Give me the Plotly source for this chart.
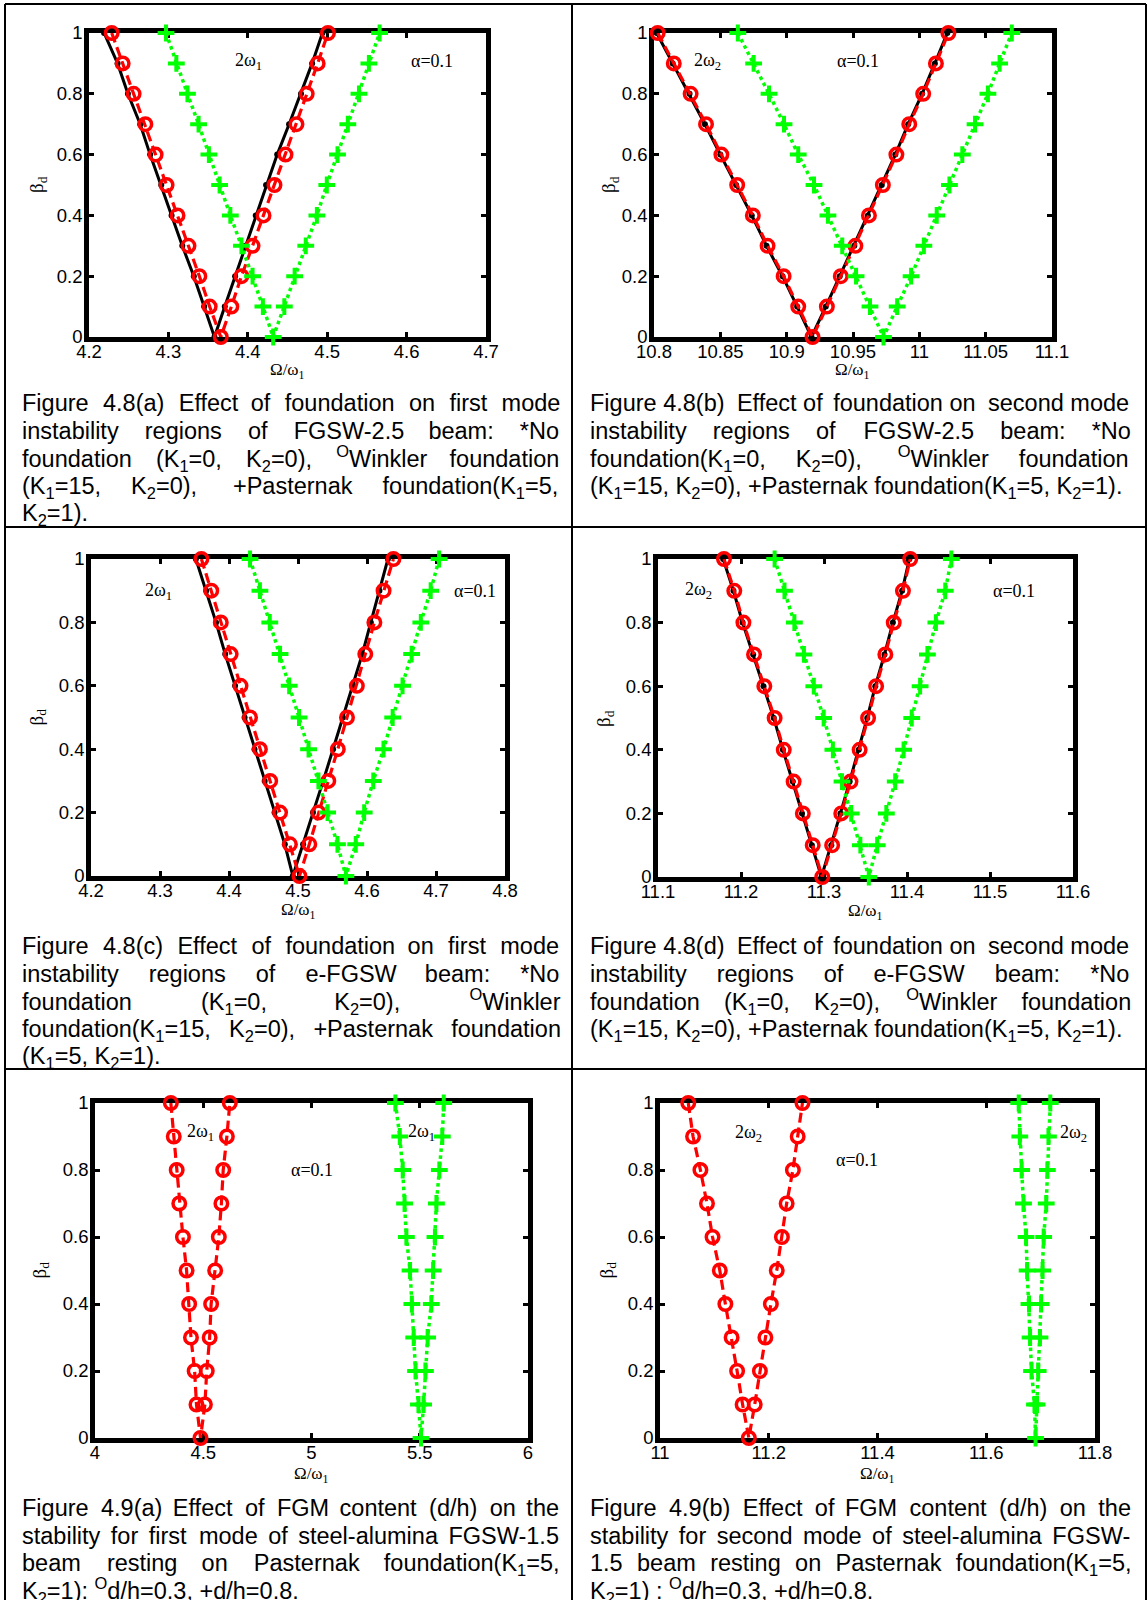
import plotly.graph_objects as go

W, H = 1148, 1600
SANS = "Liberation Sans, Arial, Helvetica, sans-serif"
SERIF = "Liberation Serif, Times New Roman, Times, serif"

# ---------------------------------------------------------------------------
# Dynamic load factor along each instability region: left branch (top->bottom)
# followed by the right branch (bottom->top)
beta_left = [1.0, 0.9, 0.8, 0.7, 0.6, 0.5, 0.4, 0.3, 0.2, 0.1, 0.0]
beta_right = [0.1, 0.2, 0.3, 0.4, 0.5, 0.6, 0.7, 0.8, 0.9, 1.0]
beta_d = beta_left + beta_right

# Fig 4.8(a): FGSW-2.5 beam, first mode
a_none = [4.219, 4.236, 4.249, 4.2645, 4.277, 4.291, 4.304, 4.3175, 4.332, 4.345, 4.358,
          4.371, 4.384, 4.397, 4.410, 4.423, 4.437, 4.452, 4.467, 4.481, 4.494]
a_winkler = [4.2286, 4.2424, 4.2562, 4.271, 4.2839, 4.2977, 4.3115, 4.3253, 4.339, 4.352, 4.366,
             4.3793, 4.392, 4.406, 4.4198, 4.4336, 4.4475, 4.4613, 4.4742, 4.488, 4.501]
a_pasternak = [4.297, 4.310, 4.324, 4.338, 4.351, 4.3645, 4.378, 4.392, 4.406, 4.419, 4.432,
               4.446, 4.459, 4.473, 4.487, 4.4995, 4.513, 4.526, 4.540, 4.5525, 4.566]

# Fig 4.8(b): FGSW-2.5 beam, second mode
b_none = [10.802, 10.8141, 10.8268, 10.8384, 10.85, 10.8619, 10.8737, 10.8848, 10.8969, 10.9079, 10.9187,
          10.9295, 10.94, 10.951, 10.9612, 10.9717, 10.9819, 10.9916, 11.0021, 11.0117, 11.0211]
b_winkler = [10.8028, 10.8149, 10.8276, 10.8392, 10.8508, 10.8627, 10.8745, 10.8856, 10.8977, 10.9087, 10.9195,
             10.9303, 10.9408, 10.9518, 10.962, 10.9725, 10.9827, 10.9924, 11.0029, 11.0125, 11.0219]
b_pasternak = [10.8632, 10.8751, 10.8867, 10.898, 10.9087, 10.9206, 10.9311, 10.9419, 10.9523, 10.9628, 10.973,
               10.9833, 10.9938, 11.0034, 11.0131, 11.0227, 11.0324, 11.042, 11.0517, 11.0605, 11.0697]

# Fig 4.8(c): e-FGSW beam, first mode
c_none = [4.352, 4.3669, 4.3812, 4.3945, 4.4088, 4.4226, 4.4369, 4.4517, 4.466, 4.4809, 4.4925,
          4.5074, 4.5217, 4.5365, 4.5508, 4.5651, 4.5789, 4.5932, 4.6055, 4.618, 4.6303]
c_winkler = [4.360, 4.3743, 4.3881, 4.4024, 4.4167, 4.4305, 4.4448, 4.4597, 4.474, 4.4883, 4.5021,
             4.5164, 4.5296, 4.5439, 4.5577, 4.571, 4.5853, 4.5975, 4.6107, 4.624, 4.6383]
c_pasternak = [4.4305, 4.4448, 4.4591, 4.474, 4.4872, 4.5015, 4.5153, 4.5296, 4.5429, 4.5572, 4.5694,
               4.5837, 4.5959, 4.6091, 4.6239, 4.6372, 4.6515, 4.6647, 4.678, 4.6923, 4.7045]

# Fig 4.8(d): e-FGSW beam, second mode
d_none = [11.1785, 11.1909, 11.2019, 11.2147, 11.2271, 11.2395, 11.2505, 11.2624, 11.2735, 11.2854, 11.2969,
          11.3088, 11.3198, 11.3309, 11.3419, 11.3521, 11.3618, 11.3729, 11.383, 11.3941, 11.4029]
d_winkler = [11.1795, 11.1919, 11.2029, 11.2157, 11.2281, 11.2405, 11.2515, 11.2634, 11.2745, 11.2864, 11.2979,
             11.3098, 11.3208, 11.3319, 11.3429, 11.3531, 11.3628, 11.3739, 11.384, 11.3951, 11.4039]
d_pasternak = [11.2405, 11.2524, 11.2643, 11.2758, 11.2877, 11.2996, 11.3107, 11.3217, 11.3328, 11.3438, 11.354,
               11.3641, 11.3751, 11.3858, 11.3959, 11.4057, 11.4158, 11.4246, 11.4348, 11.4461, 11.4534]

# Fig 4.9(a): FGSW-1.5 on Pasternak foundation, first mode
e_dh03 = [4.3503, 4.3638, 4.3773, 4.3892, 4.4061, 4.423, 4.4349, 4.4433, 4.4602, 4.4687, 4.4873,
          4.5076, 4.5161, 4.5296, 4.5364, 4.555, 4.5719, 4.5838, 4.5922, 4.6091, 4.6227]
e_dh08 = [5.3875, 5.4078, 5.4213, 5.4298, 5.4382, 5.4552, 5.4636, 5.472, 5.4805, 5.494, 5.5059,
          5.5178, 5.5262, 5.5364, 5.5533, 5.5618, 5.5702, 5.577, 5.5905, 5.6041, 5.6108]

# Fig 4.9(b): FGSW-1.5 on Pasternak foundation, second mode
f_dh03 = [11.052, 11.0608, 11.0743, 11.0864, 11.0966, 11.11, 11.1202, 11.1317, 11.1418, 11.1519, 11.1634,
          11.1742, 11.1837, 11.1938, 11.2039, 11.2147, 11.2242, 11.2329, 11.2444, 11.2532, 11.262]
f_dh08 = [11.6597, 11.6617, 11.6651, 11.6685, 11.6732, 11.6752, 11.6786, 11.6806, 11.6833, 11.6887, 11.6907,
          11.6934, 11.6955, 11.6988, 11.7009, 11.7036, 11.7056, 11.7103, 11.7124, 11.7144, 11.7178]

# Tick values and labels
y_ticks = [0, 0.2, 0.4, 0.6, 0.8, 1.0]
y_ticklabels = ["0", "0.2", "0.4", "0.6", "0.8", "1"]
a_xticks = [4.2, 4.3, 4.4, 4.5, 4.6, 4.7]
a_xlabels = ["4.2", "4.3", "4.4", "4.5", "4.6", "4.7"]
b_xticks = [10.8, 10.85, 10.9, 10.95, 11.0, 11.05, 11.1]
b_xlabels = ["10.8", "10.85", "10.9", "10.95", "11", "11.05", "11.1"]
c_xticks = [4.2, 4.3, 4.4, 4.5, 4.6, 4.7, 4.8]
c_xlabels = ["4.2", "4.3", "4.4", "4.5", "4.6", "4.7", "4.8"]
d_xticks = [11.1, 11.2, 11.3, 11.4, 11.5, 11.6]
d_xlabels = ["11.1", "11.2", "11.3", "11.4", "11.5", "11.6"]
e_xticks = [4, 4.5, 5, 5.5, 6]
e_xlabels = ["4", "4.5", "5", "5.5", "6"]
f_xticks = [11, 11.2, 11.4, 11.6, 11.8]
f_xlabels = ["11", "11.2", "11.4", "11.6", "11.8"]

# ---------------------------------------------------------------------------
STYLE = {
    "none": dict(
        line=dict(color="black", width=3),
        marker=dict(symbol="circle", size=6, color="black"),
    ),
    "red": dict(
        line=dict(color="#ff0000", width=3.2, dash="10px,5px"),
        marker=dict(symbol="circle-open", size=12.5, color="#ff0000",
                    line=dict(width=3.5, color="#ff0000")),
    ),
    "green": dict(
        line=dict(color="#00ff00", width=3.5, dash="dot"),
        marker=dict(symbol="cross-thin-open", size=12, color="#00ff00",
                    line=dict(width=4, color="#00ff00")),
    ),
}

# panel frame in page pixels: (left, right, top, bottom); title_gap = x-title offset
PANELS = [
    dict(box=(89, 486, 33, 337), xr=[4.2, 4.7], xt=(a_xticks, a_xlabels), ylab_x=38, title_gap=34,
         series=[("none", a_none), ("red", a_winkler), ("green", a_pasternak)],
         notes=[("2ω<sub>1</sub>", 4.4014, 0.905), ("α=0.1", 4.632, 0.907)]),
    dict(box=(654, 1052, 33, 337), xr=[10.8, 11.1], xt=(b_xticks, b_xlabels), ylab_x=610, title_gap=34,
         series=[("none", b_none), ("red", b_winkler), ("green", b_pasternak)],
         notes=[("2ω<sub>2</sub>", 10.8406, 0.905), ("α=0.1", 10.9537, 0.907)]),
    dict(box=(91, 505, 559, 876), xr=[4.2, 4.8], xt=(c_xticks, c_xlabels), ylab_x=37, title_gap=35,
         series=[("none", c_none), ("red", c_winkler), ("green", c_pasternak)],
         notes=[("2ω<sub>1</sub>", 4.2975, 0.898), ("α=0.1", 4.7565, 0.90)]),
    dict(box=(658, 1073, 559, 877), xr=[11.1, 11.6], xt=(d_xticks, d_xlabels), ylab_x=605, title_gap=35,
         series=[("none", d_none), ("red", d_winkler), ("green", d_pasternak)],
         notes=[("2ω<sub>2</sub>", 11.1486, 0.90), ("α=0.1", 11.5284, 0.90)]),
    dict(box=(95, 528, 1103, 1438), xr=[4, 6], xt=(e_xticks, e_xlabels), ylab_x=40, title_gap=37,
         series=[("red", e_dh03), ("green", e_dh08)],
         notes=[("2ω<sub>1</sub>", 4.487, 0.913), ("2ω<sub>1</sub>", 5.506, 0.913),
                ("α=0.1", 5.0017, 0.80)]),
    dict(box=(660, 1095, 1103, 1438), xr=[11, 11.8], xt=(f_xticks, f_xlabels), ylab_x=607, title_gap=37,
         series=[("red", f_dh03), ("green", f_dh08)],
         notes=[("2ω<sub>2</sub>", 11.162, 0.91), ("2ω<sub>2</sub>", 11.7597, 0.91),
                ("α=0.1", 11.362, 0.83)]),
]

fig = go.Figure()
layout = dict(
    width=W, height=H, margin=dict(l=0, r=0, t=0, b=0, autoexpand=False),
    paper_bgcolor="white", plot_bgcolor="white", showlegend=False,
)
annotations = []
shapes = []

for i, p in enumerate(PANELS, start=1):
    xa = "x" if i == 1 else f"x{i}"
    ya = "y" if i == 1 else f"y{i}"
    l, r, t, b = p["box"]
    common = dict(
        showline=True, linecolor="black", linewidth=4.5, mirror="ticks",
        ticks="inside", ticklen=5, tickwidth=2.5, tickcolor="black",
        showgrid=False, zeroline=False, layer="below traces",
        tickfont=dict(family=SANS, size=18.5, color="black"),
    )
    layout["xaxis" if i == 1 else f"xaxis{i}"] = dict(
        common, domain=[l / W, r / W], range=p["xr"], anchor=ya,
        tickmode="array", tickvals=p["xt"][0], ticktext=p["xt"][1],
        ticklabelstandoff=-6,
    )
    layout["yaxis" if i == 1 else f"yaxis{i}"] = dict(
        common, domain=[1 - b / H, 1 - t / H], range=[0, 1], anchor=xa,
        tickmode="array", tickvals=y_ticks, ticktext=y_ticklabels,
        ticklabelstandoff=-2,
    )
    for style, xs in p["series"]:
        fig.add_trace(go.Scatter(
            x=xs, y=beta_d, xaxis=xa, yaxis=ya, mode="lines+markers",
            cliponaxis=False, hoverinfo="skip", **STYLE[style],
        ))
    for txt, xv, yv in p["notes"]:
        annotations.append(dict(
            text=txt, x=xv, y=yv, xref=xa, yref=ya, showarrow=False,
            font=dict(family=SERIF, size=18, color="black"),
        ))
    # axis titles
    annotations.append(dict(
        text="Ω/ω<sub>1</sub>", x=(l + r) / 2 / W, y=1 - (b + p["title_gap"]) / H,
        xref="paper", yref="paper", showarrow=False, xanchor="center", yanchor="middle",
        font=dict(family=SERIF, size=17, color="black"),
    ))
    annotations.append(dict(
        text="β<sub>d</sub>", x=p["ylab_x"] / W, y=1 - (t + b) / 2 / H,
        xref="paper", yref="paper", showarrow=False, textangle=-90,
        xanchor="center", yanchor="middle",
        font=dict(family=SERIF, size=19, color="black"),
    ))

# ---------------------------------------------------------------------------
# Captions, set as justified paragraphs in Arial metrics
ARIAL = {" ": 278, "(": 333, ")": 333, "=": 584, ",": 278, ".": 278, "-": 333,
         ":": 278, "*": 389, "+": 584, "/": 278}
for ch in "0123456789":
    ARIAL[ch] = 556
ARIAL.update(dict(zip("abcdefghijklmnopqrstuvwxyz",
                      [556, 556, 500, 556, 556, 278, 556, 556, 222, 222, 500, 222, 833,
                       556, 556, 556, 556, 333, 500, 278, 556, 500, 722, 500, 500, 500])))
ARIAL.update(dict(zip("ABCDEFGHIJKLMNOPQRSTUVWXYZ",
                      [667, 667, 722, 722, 667, 611, 778, 722, 278, 500, 667, 556, 833,
                       722, 778, 667, 778, 722, 667, 611, 722, 667, 944, 667, 667, 611])))

CAP_SIZE = 23.5


def text_width(s, size):
    total, scale, i = 0.0, 1.0, 0
    while i < len(s):
        if s.startswith("<sub>", i) or s.startswith("<sup>", i):
            scale, i = 0.7, i + 5
            continue
        if s.startswith("</sub>", i) or s.startswith("</sup>", i):
            scale, i = 1.0, i + 6
            continue
        total += ARIAL.get(s[i], 556) * scale
        i += 1
    return total / 1000.0 * size


# fixed-width Unicode spaces, in twelfths of an em
PAD = {0: ("", 0), 1: ("", 0), 2: ("\u2006", 2), 3: ("\u2005", 3), 4: ("\u2004", 4),
       5: ("\u2006\u2005", 5), 6: ("\u2002", 6), 7: ("\u2004\u2005", 7),
       8: ("\u2002\u2006", 8), 9: ("\u2002\u2005", 9), 10: ("\u2002\u2004", 10),
       11: ("\u2002\u2006\u2005", 11)}


def pad(n):
    s, used = "", 0
    while n >= 12:
        s += "\u2003"
        n -= 12
        used += 12
    extra, u = PAD[n]
    return s + extra, used + u


def justify(line, width, size):
    words = line.split(" ")
    if len(words) < 2:
        return line
    natural = sum(text_width(w, size) for w in words)
    space = ARIAL[" "] / 1000.0 * size
    gap = (width - natural) / (len(words) - 1)
    extra_em = max(gap - space, 0) / size
    out, done = words[0], 0.0
    for k, w in enumerate(words[1:], start=1):
        need = int(round((k * extra_em - done) * 12))
        s, used = pad(max(need, 0))
        done += used / 12.0
        out += " " + s + w
    return out


def baseline_fix(s, size):
    # sub/superscripts grow the text box on one side; keep baselines on a grid
    has_sub, has_sup = "<sub>" in s, "<sup>" in s
    if has_sub and not has_sup:
        return 0.072 * size
    if has_sup and not has_sub:
        return -0.072 * size
    return 0.0


CAPTIONS = [
    # (left, right, first line centre, lines); True marks a justified line
    (21, 559, 403, [
        ("Figure 4.8(a) Effect of foundation on first mode", True),
        ("instability regions of FGSW-2.5 beam: *No", True),
        ("foundation (K<sub>1</sub>=0, K<sub>2</sub>=0), <sup>O</sup>Winkler foundation", True),
        ("(K<sub>1</sub>=15, K<sub>2</sub>=0), +Pasternak foundation(K<sub>1</sub>=5,", True),
        ("K<sub>2</sub>=1).", False),
    ]),
    (589, 1130, 403, [
        ("Figure 4.8(b) Effect of foundation on second mode", True),
        ("instability regions of FGSW-2.5 beam: *No", True),
        ("foundation(K<sub>1</sub>=0, K<sub>2</sub>=0), <sup>O</sup>Winkler foundation", True),
        ("(K<sub>1</sub>=15, K<sub>2</sub>=0), +Pasternak foundation(K<sub>1</sub>=5, K<sub>2</sub>=1).", False),
    ]),
    (21, 559, 946, [
        ("Figure 4.8(c) Effect of foundation on first mode", True),
        ("instability regions of e-FGSW beam: *No", True),
        ("foundation (K<sub>1</sub>=0, K<sub>2</sub>=0), <sup>O</sup>Winkler", True),
        ("foundation(K<sub>1</sub>=15, K<sub>2</sub>=0), +Pasternak foundation", True),
        ("(K<sub>1</sub>=5, K<sub>2</sub>=1).", False),
    ]),
    (589, 1130, 946, [
        ("Figure 4.8(d) Effect of foundation on second mode", True),
        ("instability regions of e-FGSW beam: *No", True),
        ("foundation (K<sub>1</sub>=0, K<sub>2</sub>=0), <sup>O</sup>Winkler foundation", True),
        ("(K<sub>1</sub>=15, K<sub>2</sub>=0), +Pasternak foundation(K<sub>1</sub>=5, K<sub>2</sub>=1).", False),
    ]),
    (21, 559, 1508, [
        ("Figure 4.9(a) Effect of FGM content (d/h) on the", True),
        ("stability for first mode of steel-alumina FGSW-1.5", True),
        ("beam resting on Pasternak foundation(K<sub>1</sub>=5,", True),
        ("K<sub>2</sub>=1): <sup>O</sup>d/h=0.3, +d/h=0.8.", False),
    ]),
    (589, 1130, 1508, [
        ("Figure 4.9(b) Effect of FGM content (d/h) on the", True),
        ("stability for second mode of steel-alumina FGSW-", True),
        ("1.5 beam resting on Pasternak foundation(K<sub>1</sub>=5,", True),
        ("K<sub>2</sub>=1) : <sup>O</sup>d/h=0.3, +d/h=0.8.", False),
    ]),
]
LINE_STEP = 27.5

for x0, x1, y0, lines in CAPTIONS:
    for j, (txt, just) in enumerate(lines):
        s = justify(txt, x1 - x0, CAP_SIZE) if just else txt
        yc = y0 + j * LINE_STEP + baseline_fix(txt, CAP_SIZE)
        annotations.append(dict(
            text=s, x=x0 / W, y=1 - yc / H, xref="paper", yref="paper",
            xanchor="left", yanchor="middle", showarrow=False, borderpad=0,
            font=dict(family=SANS, size=CAP_SIZE, color="black"),
        ))

# ---------------------------------------------------------------------------
# Table rules around the six cells
RULES = [
    (5, 4, 1146, 4), (5, 4, 5, 1600), (1146, 4, 1146, 1600), (572, 4, 572, 1600),
    (5, 527, 1146, 527), (5, 1069, 1146, 1069),
]
for xa0, ya0, xa1, ya1 in RULES:
    shapes.append(dict(
        type="line", xref="paper", yref="paper",
        x0=xa0 / W, y0=1 - ya0 / H, x1=xa1 / W, y1=1 - ya1 / H,
        line=dict(color="black", width=2),
    ))

layout["annotations"] = annotations
layout["shapes"] = shapes
fig.update_layout(**layout)

# page body without default margins so the figure fills the window exactly
PAGE_JS = ("document.body.style.margin='0';document.body.style.padding='0';"
           "document.documentElement.style.overflow='hidden';")
fig.write_html("out.html", post_script=PAGE_JS, config={"responsive": False})
